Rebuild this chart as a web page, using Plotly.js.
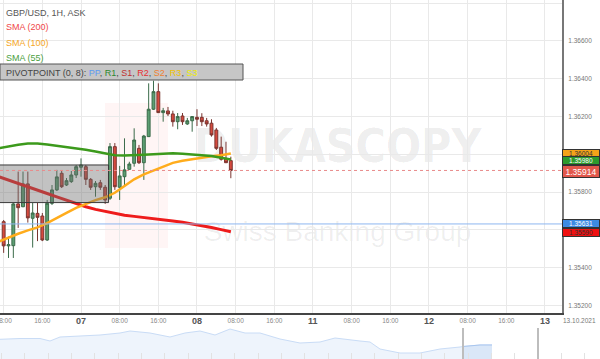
<!DOCTYPE html>
<html><head><meta charset="utf-8">
<script src="https://cdn.plot.ly/plotly-3.0.1.min.js"></script>
<style>html,body{margin:0;padding:0;background:#fff}</style>
</head><body>
<div id="chart" style="width:600px;height:359px"></div>
<script>
// ---- data (GBP/USD 1H ASK) ; x = trading hours since 2021-10-06 00:00 (weekend skipped)
const candleHours = [8,9,10,11,12,13,14,15,16,17,18,19,20,21,22,23,24,25,26,27,28,29,30,31,32,33,34,35,36,37,38,39,40,41,42,43,44,45,46,47,48,49,50,51,52,53,54,55];
const opens = [1.35643,1.35515,1.35516,1.35737,1.35722,1.35843,1.35661,1.35687,1.35673,1.35546,1.35740,1.35811,1.35899,1.35837,1.35855,1.35890,1.35931,1.35934,1.35867,1.35828,1.35849,1.35825,1.35767,1.36040,1.35825,1.35881,1.35920,1.35952,1.36031,1.35955,1.36093,1.36238,1.36331,1.36220,1.36229,1.36213,1.36172,1.36202,1.36160,1.36177,1.36195,1.36195,1.36177,1.36164,1.36128,1.36037,1.35978,1.35966];
const highs = [1.35652,1.35564,1.35742,1.35908,1.35908,1.35908,1.35742,1.35742,1.35689,1.35758,1.35837,1.35917,1.35911,1.35874,1.35911,1.35943,1.35978,1.35943,1.35874,1.35858,1.35864,1.35837,1.36059,1.36059,1.35938,1.36084,1.35960,1.36137,1.36049,1.36102,1.36375,1.36389,1.36375,1.36245,1.36250,1.36230,1.36218,1.36218,1.36192,1.36202,1.36238,1.36217,1.36192,1.36185,1.36139,1.36093,1.36066,1.35987];
const lows = [1.35478,1.35451,1.35451,1.35610,1.35720,1.35638,1.35506,1.35540,1.35540,1.35541,1.35731,1.35805,1.35821,1.35832,1.35848,1.35874,1.35881,1.35837,1.35811,1.35775,1.35811,1.35737,1.35758,1.35811,1.35758,1.35837,1.35917,1.35934,1.35948,1.35864,1.36091,1.36234,1.36218,1.36172,1.36202,1.36146,1.36132,1.36155,1.36155,1.36119,1.36149,1.36149,1.36146,1.36093,1.36022,1.35966,1.35954,1.35873];
const closes = [1.35515,1.35521,1.35737,1.35717,1.35843,1.35663,1.35689,1.35666,1.35546,1.35740,1.35811,1.35880,1.35828,1.35860,1.35890,1.35934,1.35943,1.35867,1.35825,1.35846,1.35825,1.35758,1.36040,1.35828,1.35885,1.35917,1.35948,1.36075,1.35955,1.36096,1.36238,1.36331,1.36220,1.36230,1.36213,1.36172,1.36199,1.36172,1.36177,1.36199,1.36185,1.36172,1.36160,1.36102,1.36031,1.35973,1.35955,1.35914];

const smaHours = [7,9,11,13,15,17,19,21,23,25,27,29,31,33,35,37,39,41,43,45,47,49,51,53,55];
const sma200 = [1.35881,1.35864,1.35846,1.35828,1.35810,1.35792,1.35774,1.35756,1.35738,1.35722,1.35708,1.35697,1.35686,1.35677,1.35671,1.35666,1.35661,1.35656,1.35647,1.35640,1.35632,1.35622,1.35612,1.35601,1.35590];
const sma100 = [1.35538,1.35560,1.35579,1.35597,1.35613,1.35635,1.35660,1.35689,1.35716,1.35738,1.35757,1.35772,1.35796,1.35832,1.35867,1.35893,1.35914,1.35935,1.35954,1.35965,1.35974,1.35981,1.35989,1.35995,1.36004];
const sma55 = [1.36032,1.36042,1.36050,1.36056,1.36057,1.36051,1.36045,1.36040,1.36033,1.36024,1.36014,1.36002,1.35994,1.35993,1.35994,1.35997,1.36000,1.36004,1.36005,1.36003,1.36000,1.35995,1.35990,1.35982,1.35972];

const lastPrice = 1.35914, blueLevel = 1.35631;
const sma200Last = 1.35590, sma100Last = 1.36004, sma55Last = 1.35980;
const zoneStart = 6, zoneEnd = 29.7, zoneTop = 1.35943, zoneBottom = 1.35744;

const hourTicks = [8,16,24,32,40,48,56,64,72,80,88,96,104,112,120];
const hourLabels = ['08:00','16:00','','08:00','16:00','','08:00','16:00','','08:00','16:00','','08:00','16:00',''];
const dayTicks = [24,48,72,96,120];
const dayLabels = ['07','08','11','12','13'];
const priceTicks = [1.352,1.354,1.356,1.358,1.360,1.362,1.364,1.366,1.368];
const priceLabels = ['1.35200','1.35400','','1.35800','','1.36200','1.36400','1.36600','1.36800'];

const navTime = [0,20,40,50,60,80,100,120,130,150,170,185,200,215,230,245,260,280,300,320,335,360,370,380,400,420,440,460,463,480,492];
const navLevel = [19.7,20.5,20.5,18,22,23,24,26,28,26,22,26,28,24,30,26,26,20,16,17,21,18,17,10,6,6,10,12,12.5,14,14];
const navWindow = [463,538];

const F = 'Liberation Sans, Arial, sans-serif';
const XD = 562/600;
const py = p => 1 - p/359;

const traces = [
  {type:'scatter',mode:'lines',x:smaHours,y:sma200,line:{color:'#ee1b1b',width:3},xaxis:'x',yaxis:'y',hoverinfo:'skip'},
  {type:'scatter',mode:'lines',x:smaHours,y:sma100,line:{color:'#ffac1c',width:2.5},xaxis:'x',yaxis:'y',hoverinfo:'skip'},
  {type:'scatter',mode:'lines',x:smaHours,y:sma55,line:{color:'#3c9a1c',width:2.5},xaxis:'x',yaxis:'y',hoverinfo:'skip'},
  {type:'candlestick',x:candleHours,open:opens,high:highs,low:lows,close:closes,xaxis:'x',yaxis:'y',
   increasing:{line:{color:'#3b6b4a',width:1},fillcolor:'#5c9e72'},
   decreasing:{line:{color:'#7a3530',width:1},fillcolor:'#d64a3e'},whiskerwidth:0},
  {type:'scatter',mode:'lines',x:navTime,y:navLevel,fill:'tozeroy',fillcolor:'#eef4fc',line:{color:'#c9dcf6',width:1},xaxis:'x2',yaxis:'y2',hoverinfo:'skip'},
  {type:'scatter',mode:'lines',x:navTime.filter(t=>t>=navWindow[0]),y:navLevel.filter((v,i)=>navTime[i]>=navWindow[0]),fill:'tozeroy',fillcolor:'#dae7f8',line:{color:'#a8c5ee',width:1},xaxis:'x2',yaxis:'y2',hoverinfo:'skip'}
];

const shapes = [
  {type:'rect',xref:'paper',yref:'paper',x0:105/600,x1:168/600,y0:py(248),y1:py(103),fillcolor:'rgba(255,60,60,0.05)',line:{width:0},layer:'below'},
  {type:'rect',xref:'paper',yref:'paper',x0:205/600,x1:470/600,y0:py(182),y1:py(104),fillcolor:'rgba(0,0,0,0)',line:{width:0},layer:'below',
   label:{text:'<b>DUKASCOPY</b>',font:{family:'DejaVu Sans Condensed, Liberation Sans Narrow, sans-serif',size:46,color:'rgba(0,0,0,0.075)'},textposition:'middle center'}},
  {type:'rect',xref:'paper',yref:'paper',x0:205/600,x1:470/600,y0:py(247),y1:py(209),fillcolor:'rgba(0,0,0,0)',line:{width:0},layer:'below',
   label:{text:'Swiss Banking Group',font:{family:F,size:28,color:'rgba(0,0,0,0.065)'},textposition:'middle center'}},
  {type:'rect',xref:'x',yref:'y',x0:zoneStart,x1:zoneEnd,y0:zoneBottom,y1:zoneTop,fillcolor:'rgba(110,110,110,0.42)',line:{color:'#3a3a3a',width:1},layer:'above'},
  {type:'line',xref:'paper',yref:'y',x0:0,x1:XD,y0:blueLevel,y1:blueLevel,line:{color:'#8db7f0',width:1}},
  {type:'line',xref:'paper',yref:'y',x0:0,x1:XD,y0:lastPrice,y1:lastPrice,line:{color:'#e98a8a',width:1,dash:'dot'}},
  {type:'rect',xref:'paper',yref:'paper',x0:0,x1:243/600,y0:py(80),y1:py(64),fillcolor:'#c6c6c6',line:{color:'#555',width:1},layer:'above'},
  {type:'line',xref:'x2',yref:'y2',x0:navWindow[0],x1:navWindow[0],y0:0,y1:31,line:{color:'#bdbdbd',width:2}},
  {type:'line',xref:'x2',yref:'y2',x0:navWindow[1],x1:navWindow[1],y0:0,y1:31,line:{color:'#bdbdbd',width:2}}
];

const legendAnn = (t,y,c)=>({xref:'paper',yref:'paper',x:4/600,y:py(y),xanchor:'left',yanchor:'middle',text:t,showarrow:false,font:{family:F,size:9,color:c}});
const priceAnn = (t,v,bg,fc,sz,h,ys)=>({xref:'paper',yref:'y',x:XD,y:v,xanchor:'left',yanchor:'middle',text:t,showarrow:false,
  bgcolor:bg,bordercolor:'#333',borderwidth:1,borderpad:0,width:36,height:h,yshift:ys,font:{family:F,size:sz,color:fc}});

const annotations = [
  legendAnn('GBP/USD, 1H, ASK',12.5,'#555'),
  legendAnn('SMA (200)',27.5,'#f04848'),
  legendAnn('SMA (100)',42.7,'#f5a623'),
  legendAnn('SMA (55)',58,'#4aa040'),
  legendAnn('PIVOTPOINT (0, 8): <span style="color:#5b9bf0">PP</span>, <span style="color:#2f8a2f">R1</span>, <span style="color:#c03030">S1</span>, <span style="color:#e83030">R2</span>, <span style="color:#f08030">S2</span>, <span style="color:#f2c200">R3</span>, <span style="color:#f0ee00">S3</span>',72.5,'#444'),
  priceAnn(sma100Last.toFixed(5),sma100Last,'#f5a319','#333',6.5,7,0),
  priceAnn(sma55Last.toFixed(5),sma55Last,'#2d9a2d','#fff',6.5,7,-3),
  priceAnn(lastPrice.toFixed(5),lastPrice,'#e2574b','#fff',8.5,11,-1),
  priceAnn(blueLevel.toFixed(5),blueLevel,'#3d8be3','#fff',6.5,7,0),
  priceAnn(sma200Last.toFixed(5),sma200Last,'#f01010','#333',6.5,7,-1),
  {xref:'paper',yref:'paper',x:579/600,y:py(320.5),xanchor:'center',yanchor:'middle',text:'13.10.2021',showarrow:false,font:{family:F,size:6.5,color:'#777'}}
].concat(dayTicks.map((d,i)=>({xref:'x',yref:'paper',x:d,y:py(320.5),xanchor:'center',yanchor:'middle',text:'<b>'+dayLabels[i]+'</b>',showarrow:false,font:{family:F,size:9,color:'#555'}})));

const layout = {
  width:600,height:359,margin:{l:0,r:0,t:0,b:0},paper_bgcolor:'#fff',plot_bgcolor:'#fff',showlegend:false,boxgap:0.15,
  xaxis:{domain:[0,XD],range:[7.242,123.52],anchor:'y',tickmode:'array',tickvals:hourTicks,ticktext:hourLabels,
    showgrid:true,gridcolor:'#e9e9e9',gridwidth:1,zeroline:false,showline:true,linecolor:'#444',linewidth:2,
    ticks:'',tickfont:{family:F,size:6.5,color:'#888'},ticklabeloverflow:'allow',rangeslider:{visible:false},fixedrange:true},
  yaxis:{domain:[1-313/359,1],range:[1.351598,1.368159],side:'right',anchor:'x',tickmode:'array',tickvals:priceTicks,ticktext:priceLabels,
    showgrid:true,gridcolor:'#e9e9e9',zeroline:false,showline:true,linecolor:'#777',linewidth:2,ticks:'',
    tickfont:{family:F,size:6.5,color:'#777'},ticklabelstandoff:3},
  xaxis2:{domain:[0,1],range:[0,600],anchor:'y2',showgrid:false,zeroline:false,showticklabels:false,showline:false,
    ticks:'inside',ticklen:6,tickcolor:'#e2e2e2',tick0:1.5,dtick:23.33},
  yaxis2:{domain:[0,31/359],range:[0,31],anchor:'x2',visible:false},
  shapes:shapes,annotations:annotations
};
Plotly.newPlot('chart',traces,layout,{staticPlot:true,displayModeBar:false});
</script>
</body></html>
